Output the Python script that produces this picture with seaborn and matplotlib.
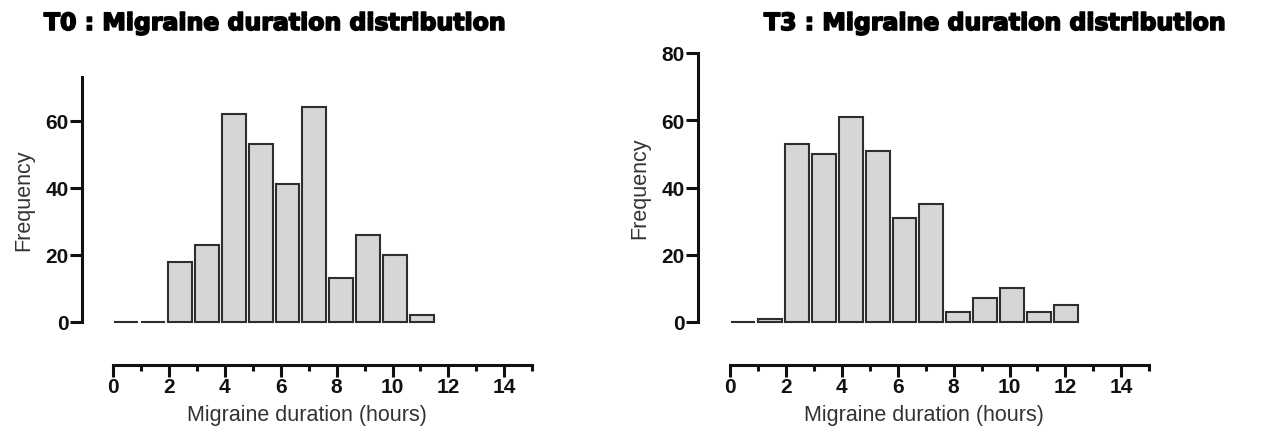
import numpy as np
import pandas as pd
import matplotlib.pyplot as plt
import matplotlib.patheffects as pe
import seaborn as sns

sns.set_style("white")
plt.rcParams['font.family'] = ['Liberation Sans', 'DejaVu Sans']

# counts per 1-hour bin
t0_bins = list(range(0, 12))
t0_counts = [0, 0, 18, 23, 62, 53, 41, 64, 13, 26, 20, 2]
t3_bins = list(range(0, 13))
t3_counts = [0, 1, 53, 50, 61, 51, 31, 35, 3, 7, 10, 3, 5]

W, H = 1269, 427
fig = plt.figure(figsize=(W / 100, H / 100), dpi=100)

BAR_UNIT = 26.85   # px per hour for the bars
AXIS_UNIT = 27.95  # px per hour for the x axis (drawn separately, like the original)


def panel(left_px, zero_px, top_px, ymax, yticks, bins, counts, title, title_x):
    bottom_px = 323
    end_px = zero_px + 15 * AXIS_UNIT
    rect = [left_px / W, (H - bottom_px) / H,
            (end_px - left_px) / W, (bottom_px - top_px) / H]
    ax = fig.add_axes(rect)
    df = pd.DataFrame({'hours': [b + 0.5 for b in bins], 'n': counts})
    sns.histplot(data=df, x='hours', weights='n', bins=list(range(0, len(bins) + 1)),
                 color='#d6d6d6', edgecolor='#2e2e2e', linewidth=1.5,
                 alpha=1, ax=ax)
    for p in ax.patches:
        p.set_clip_on(False)
        p.set_width(0.89)
        p.set_x(p.get_x() + 0.055)
    ax.set_xlim(-(zero_px - left_px) / BAR_UNIT, (end_px - zero_px) / BAR_UNIT)
    ax.set_ylim(0, ymax)
    ax.set_yticks(yticks)
    ax.set_xticks([])
    for s in ('top', 'right', 'bottom'):
        ax.spines[s].set_visible(False)
    ax.spines['left'].set_linewidth(2.2)
    ax.spines['left'].set_color('#111111')
    ax.tick_params(axis='y', which='major', direction='out', length=8.5, left=True,
                   width=2.2, color='#111111', labelsize=15, labelcolor='#111111', pad=1)
    for lab in ax.get_yticklabels():
        lab.set_fontweight('bold')
    ax.set_xlabel('')
    ax.set_ylabel('Frequency', fontsize=15.5, color='#333333', labelpad=8)

    # separate x axis below the plot
    ax2 = fig.add_axes(rect)
    ax2.patch.set_visible(False)
    ax2.set_xlim(-(zero_px - left_px) / AXIS_UNIT, 15)
    ax2.set_yticks([])
    for s in ('top', 'right', 'left'):
        ax2.spines[s].set_visible(False)
    ax2.spines['bottom'].set_position(('outward', 31))
    ax2.spines['bottom'].set_bounds(0, 15)
    ax2.spines['bottom'].set_linewidth(2.2)
    ax2.spines['bottom'].set_color('#111111')
    ax2.set_xticks(range(0, 15, 2))
    ax2.set_xticks(range(1, 16, 2), minor=True)
    ax2.tick_params(axis='x', which='major', direction='out', length=8.5, bottom=True,
                    width=2.2, color='#111111', labelsize=15, labelcolor='#111111', pad=0)
    ax2.tick_params(axis='x', which='minor', direction='out', length=4.5, bottom=True,
                    width=2.2, color='#111111')
    for lab in ax2.get_xticklabels():
        lab.set_fontweight('bold')
    ax2.set_xlabel('Migraine duration (hours)', fontsize=15.5, color='#333333', labelpad=6)

    fig.text(title_x / W, 1 - 24 / H, title, ha='center', va='center',
             fontsize=17, fontweight='heavy', color='black', family=['DejaVu Sans'],
             path_effects=[pe.withStroke(linewidth=1.2, foreground='black')])
    return ax


panel(82, 113, 78, 73, [0, 20, 40, 60], t0_bins, t0_counts,
      'T0 : Migraine duration distribution', 275)
panel(698, 730, 54, 80, [0, 20, 40, 60, 80], t3_bins, t3_counts,
      'T3 : Migraine duration distribution', 995)

fig.savefig('out.png', dpi=100)
